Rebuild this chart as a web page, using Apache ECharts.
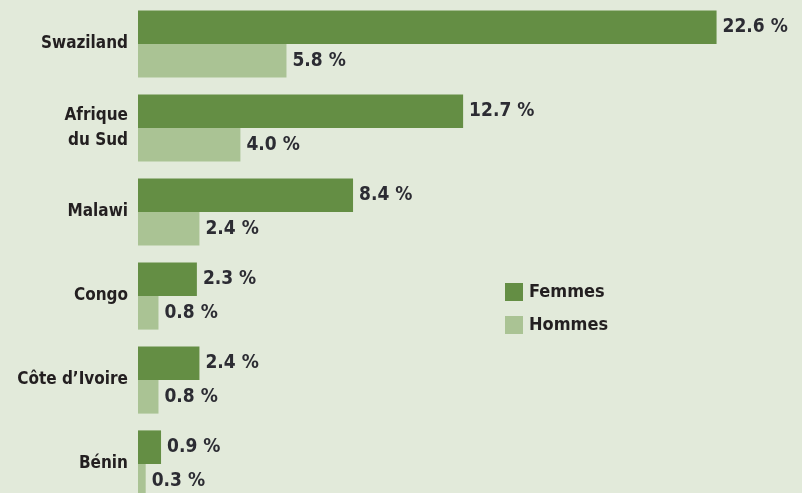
<!DOCTYPE html>
<html>
<head>
<meta charset="utf-8">
<script src="https://cdn.jsdelivr.net/npm/echarts@6/dist/echarts.min.js"></script>
<style>
  html, body { margin: 0; padding: 0; background: #e2eada; }
  #main { width: 802px; height: 493px; }
</style>
</head>
<body>
<div id="main"></div>
<script>
var pays = ['Swaziland', 'Afrique\ndu Sud', 'Malawi', 'Congo', 'Côte d’Ivoire', 'Bénin'];
var femmes = [22.6, 12.7, 8.4, 2.3, 2.4, 0.9];
var hommes = [5.8, 4.0, 2.4, 0.8, 0.8, 0.3];

var police = '"DejaVu Sans Condensed", "DejaVu Sans", sans-serif';

var myChart = echarts.init(document.getElementById('main'));

var etiquette = {
  show: true,
  position: 'right',
  distance: 6,
  fontFamily: police,
  fontWeight: 'bold',
  fontSize: 19,
  color: '#2c2c33',
  formatter: function (p) { return p.value.toFixed(1) + ' %'; }
};

var option = {
  backgroundColor: '#e2eada',
  animation: false,
  color: ['#648e44', '#aac394'],
  legend: {
    data: ['Femmes', 'Hommes'],
    orient: 'vertical',
    left: 500,
    top: 278,
    itemWidth: 18,
    itemHeight: 18,
    itemGap: 15,
    icon: 'rect',
    textStyle: {
      fontFamily: police,
      fontWeight: 'bold',
      fontSize: 18,
      color: '#231f20',
      padding: [0, 0, 0, 1]
    }
  },
  grid: {
    left: 138,
    right: 24,
    top: 2,
    bottom: -13,
    containLabel: false,
    outerBoundsMode: 'none'
  },
  xAxis: {
    type: 'value',
    min: 0,
    max: 25,
    show: false
  },
  yAxis: {
    type: 'category',
    data: pays,
    inverse: true,
    axisLine: { show: false },
    axisTick: { show: false },
    axisLabel: {
      margin: 10,
      fontFamily: police,
      fontWeight: 'bold',
      fontSize: 17,
      lineHeight: 25,
      color: '#231f20'
    }
  },
  series: [{
    name: 'Femmes',
    type: 'bar',
    data: femmes,
    barGap: '0%',
    barCategoryGap: '20%',
    label: etiquette
  }, {
    name: 'Hommes',
    type: 'bar',
    data: hommes,
    barGap: '0%',
    barCategoryGap: '20%',
    label: etiquette
  }]
};
myChart.setOption(option);
</script>
</body>
</html>
